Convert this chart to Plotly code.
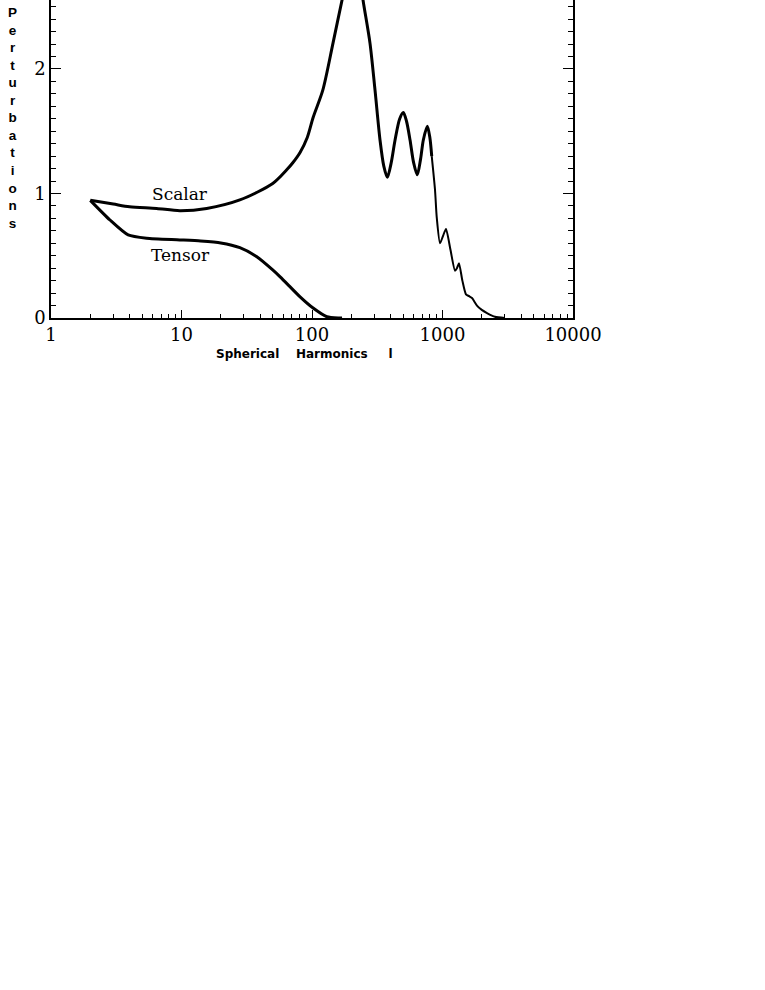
import plotly.graph_objects as go

# ---- data ----
scalar_l = [2, 3, 4, 6.45, 9.7, 15.6, 28, 50, 64, 71, 81, 92, 102, 121, 145, 170,
            190, 210, 230, 246, 278, 304, 332, 355, 378, 405, 433, 470, 501, 530,
            564, 600, 641, 680, 713, 765, 800, 827]
scalar_v = [0.945, 0.915, 0.894, 0.88, 0.862, 0.88, 0.948, 1.08, 1.19, 1.245, 1.33, 1.45,
            1.61, 1.83, 2.21, 2.554, 2.78, 2.87, 2.78, 2.554, 2.21, 1.83, 1.43, 1.22,
            1.13, 1.25, 1.43, 1.60, 1.65, 1.58, 1.43, 1.25, 1.15, 1.28, 1.43, 1.54,
            1.45, 1.30]

tail_l = [827, 876, 903, 957, 1010, 1064, 1150, 1247, 1290, 1337, 1420, 1513,
          1600, 1683, 1837, 2000, 2193, 2525, 3000]
tail_v = [1.30, 1.03, 0.81, 0.60, 0.66, 0.715, 0.55, 0.38, 0.40, 0.44, 0.30, 0.19,
          0.175, 0.16, 0.10, 0.065, 0.04, 0.01, 0.0]

tensor_l = [2, 2.83, 3.9, 5.4, 9.7, 14, 20, 28, 38, 50, 57, 68, 81, 102, 130, 160, 170]
tensor_v = [0.945, 0.787, 0.667, 0.64, 0.627, 0.618, 0.603, 0.565, 0.49, 0.386, 0.33,
            0.25, 0.17, 0.08, 0.01, 0.0, 0.0]

x_ticks = [1, 10, 100, 1000, 10000]
x_ticktext = ["1", "10", "100", "1000", "10000"]
x_minor = [m * d for d in [1, 10, 100, 1000] for m in range(2, 10)]
y_ticks = [0, 1, 2]

fig = go.Figure()
fig.add_trace(go.Scatter(x=scalar_l, y=scalar_v, mode="lines",
                         line=dict(color="black", width=3, shape="spline", smoothing=0.8),
                         showlegend=False))
fig.add_trace(go.Scatter(x=tail_l, y=tail_v, mode="lines",
                         line=dict(color="black", width=2, shape="spline", smoothing=0.6),
                         showlegend=False))
fig.add_trace(go.Scatter(x=tensor_l, y=tensor_v, mode="lines",
                         line=dict(color="black", width=3, shape="spline", smoothing=0.6),
                         showlegend=False))

serif = "DejaVu Serif"
fig.add_annotation(x=0.99, y=0.996, xref="x", yref="y", text="Scalar", showarrow=False,
                   font=dict(family=serif, size=17, color="black"))
fig.add_annotation(x=0.992, y=0.506, xref="x", yref="y", text="Tensor", showarrow=False,
                   font=dict(family=serif, size=17, color="black"))

nb = "\u00a0"
fig.add_annotation(x=(304.5 - 51) / 522, y=0, xref="paper", yref="paper", yshift=-36,
                   text="Spherical" + nb * 4 + "Harmonics" + nb * 5 + "l",
                   showarrow=False, xanchor="center", yanchor="middle",
                   font=dict(family="DejaVu Sans", size=12, color="black", weight="bold"))
fig.add_annotation(x=0, y=1 - 118.5 / 318, xref="paper", yref="paper", xshift=-39,
                   text="<br>".join(list("Perturbations")),
                   showarrow=False, xanchor="center", yanchor="middle",
                   font=dict(family="Liberation Sans", size=13.5, color="black", weight="bold"))

fig.update_xaxes(type="log", range=[0, 4], tickmode="array", tickvals=x_ticks,
                 ticktext=x_ticktext, ticks="inside", ticklen=8, tickwidth=1,
                 tickcolor="black", showline=True, linecolor="black", linewidth=1.5,
                 showgrid=False, zeroline=False,
                 tickfont=dict(family=serif, size=18, color="black"),
                 minor=dict(tickmode="array", tickvals=x_minor, ticks="inside",
                            ticklen=4, tickwidth=1, tickcolor="black", showgrid=False))
fig.update_yaxes(range=[0, 2.554], tickmode="array", tickvals=y_ticks,
                 ticks="inside", ticklen=10, tickwidth=1, tickcolor="black",
                 showline=True, linecolor="black", linewidth=1.5, mirror="ticks",
                 showgrid=False, zeroline=False,
                 tickfont=dict(family=serif, size=18, color="black"),
                 minor=dict(dtick=0.1, ticks="inside", ticklen=5, tickwidth=1,
                            tickcolor="black", showgrid=False))

fig.update_layout(width=765, height=990, paper_bgcolor="white", plot_bgcolor="white",
                  margin=dict(l=51, r=192, t=0, b=672, pad=0), showlegend=False)

fig.write_html("out.html", config={"displayModeBar": False},
               post_script="document.body.style.margin='0';")
